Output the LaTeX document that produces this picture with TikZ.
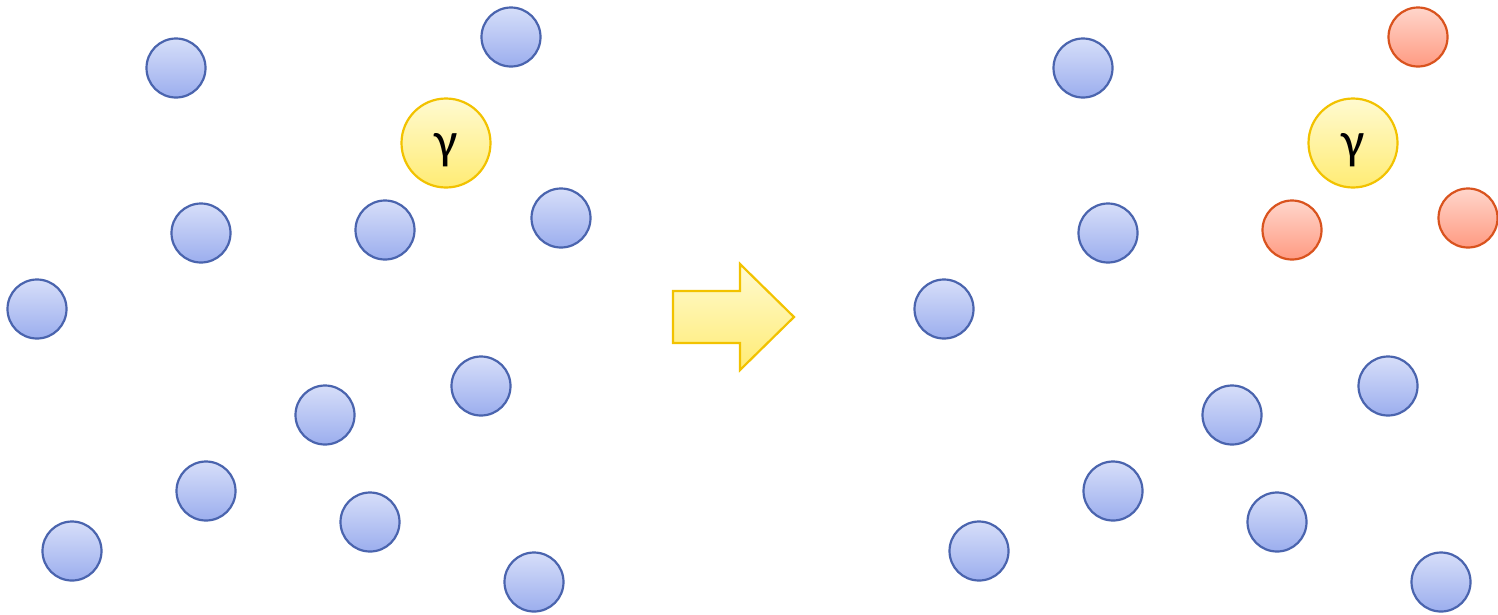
\documentclass[tikz,border=0pt]{standalone}
\usepackage{fontspec}
\setmainfont{Carlito}
\definecolor{bluetop}{HTML}{D6DEF9}
\definecolor{bluebot}{HTML}{9BAEEE}
\definecolor{bluedraw}{HTML}{4A64AE}
\definecolor{redtop}{HTML}{FFD5CB}
\definecolor{redbot}{HTML}{FF9B82}
\definecolor{reddraw}{HTML}{D9531E}
\definecolor{yeltop}{HTML}{FFFAD0}
\definecolor{yelbot}{HTML}{FFEC74}
\definecolor{yeldraw}{HTML}{F2C200}
\tikzset{
  bnode/.style={circle, minimum size=59pt, inner sep=0pt, line width=2.2pt, draw=bluedraw, top color=bluetop, bottom color=bluebot},
  rnode/.style={circle, minimum size=59pt, inner sep=0pt, line width=2.2pt, draw=reddraw, top color=redtop, bottom color=redbot},
  ynode/.style={circle, minimum size=89pt, inner sep=0pt, line width=2.2pt, draw=yeldraw, top color=yeltop, bottom color=yelbot},
  gtext/.style={font=\fontsize{52}{52}\selectfont, inner sep=0pt, anchor=base},
}
\begin{document}
\begin{tikzpicture}[x=1pt,y=-1pt]
\useasboundingbox (0,0) rectangle (1498,614);
% left panel
\node[bnode] (l1) at (176,68) {};
\node[bnode] (l2) at (511,37) {};
\node[ynode] (ly) at (446,143) {};
\node[gtext] (lyt) at (446,158) {γ};
\node[bnode] (l3) at (201,233) {};
\node[bnode] (l4) at (385,230) {};
\node[bnode] (l5) at (561,218) {};
\node[bnode] (l6) at (37,309) {};
\node[bnode] (l7) at (481,386) {};
\node[bnode] (l8) at (325,415) {};
\node[bnode] (l9) at (206,491) {};
\node[bnode] (l10) at (370,522) {};
\node[bnode] (l11) at (72,551) {};
\node[bnode] (l12) at (534,582) {};
% arrow
\draw[line width=2.2pt, draw=yeldraw, top color=yeltop, bottom color=yelbot, line join=miter]
  (673,291) -- (740,291) -- (740,264) -- (794,317) -- (740,370) -- (740,343) -- (673,343) -- cycle;
% right panel
\node[bnode] (r1) at (1083,68) {};
\node[rnode] (r2) at (1418,37) {};
\node[ynode] (ry) at (1353,143) {};
\node[gtext] (ryt) at (1353,158) {γ};
\node[bnode] (r3) at (1108,233) {};
\node[rnode] (r4) at (1292,230) {};
\node[rnode] (r5) at (1468,218) {};
\node[bnode] (r6) at (944,309) {};
\node[bnode] (r7) at (1388,386) {};
\node[bnode] (r8) at (1232,415) {};
\node[bnode] (r9) at (1113,491) {};
\node[bnode] (r10) at (1277,522) {};
\node[bnode] (r11) at (979,551) {};
\node[bnode] (r12) at (1441,582) {};
\end{tikzpicture}
\end{document}
